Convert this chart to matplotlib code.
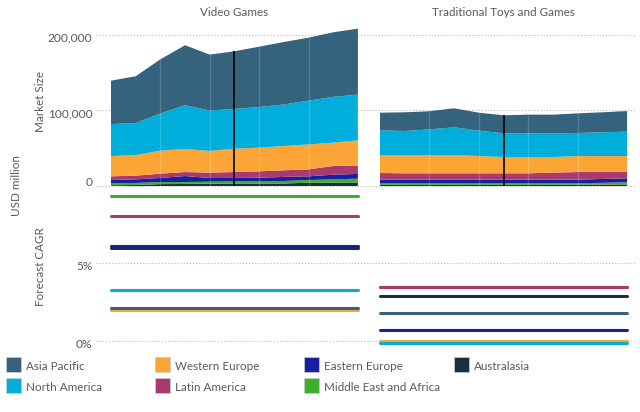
import numpy as np
import matplotlib
matplotlib.use("Agg")
import matplotlib.pyplot as plt
from matplotlib.patches import Rectangle
from matplotlib.transforms import ScaledTranslation

plt.rcParams['font.family'] = ['Lato', 'DejaVu Sans']

W, H = 640, 412
grey = '#595959'

# bottom of the stack first
regions = ['Australasia', 'Middle East and Africa', 'Eastern Europe', 'Latin America',
           'Western Europe', 'North America', 'Asia Pacific']
colors = ['#1a2f3f', '#3fae2a', '#1520a0', '#a93a6f', '#fba537', '#00aedb', '#35637d']

# market size, USD billion (shown x1000)
video_aus = [1, 1.3, 2.5, 2.7, 3, 3.3, 3.3, 3.3, 4.4, 4.4, 4.6]
video_mea = [3, 2.7, 2.8, 2.6, 2.7, 2.9, 3.3, 3.3, 3.6, 4.4, 5.1]
video_ee = [4, 4.8, 5.3, 7.9, 4.9, 4.4, 4.4, 5.4, 4.8, 6.2, 6.3]
video_la = [4.8, 4.9, 5.7, 5.3, 7.1, 7.9, 8.4, 8.8, 9.2, 11.5, 11]
video_we = [26.9, 27.3, 30.5, 30.5, 28.7, 30.9, 31.4, 32.2, 33, 30.9, 33.5]
video_na = [42.3, 42.4, 49.2, 58, 53.6, 52.6, 53.8, 55, 58, 60.6, 60.5]
video_ap = [57.5, 61.9, 71.8, 79.4, 74, 76.4, 79.9, 82.7, 83.4, 85.5, 87.4]

toys_aus = [1.5, 1.5, 1.5, 1.5, 1.5, 1.5, 1.5, 1.5, 1.7, 1.8, 2]
toys_mea = [2, 2, 2, 2, 2, 2, 2, 2, 2, 2.4, 3]
toys_ee = [4.9, 4.9, 4.9, 4.9, 4.9, 4.9, 4.9, 4.9, 4.7, 5.1, 5.2]
toys_la = [8.8, 8.4, 8.4, 8.4, 8.4, 8.4, 8.4, 9.3, 10.1, 9.2, 8.3]
toys_we = [23.8, 24.2, 24.2, 24.2, 22.9, 21.6, 21.6, 20.7, 21.2, 21.2, 21.2]
toys_na = [32.7, 31.8, 34, 36.7, 33.6, 31.4, 31.4, 31.4, 30.5, 31.3, 32.3]
toys_ap = [23.4, 24.8, 24, 25.2, 23.8, 23.8, 24.7, 24.7, 26, 26.6, 27.3]

# forecast CAGR %, same order as regions
video_cagr = [5.95, 9.3, 6.05, 8.0, 1.95, 3.27, 2.1]
toys_cagr = [2.87, 3.47, 0.67, 3.42, 0.0, -0.15, 1.75]

years = np.arange(11)
now = 5  # black marker, end of history
size_ticks = [0, 100, 200]
size_labels = ['0', '100,000', '200,000']
cagr_ticks = [0, 5]
cagr_labels = ['0%', '5%']
legend_rows = [('Asia Pacific', 'North America'), ('Western Europe', 'Latin America'),
               ('Eastern Europe', 'Middle East and Africa'), ('Australasia',)]


def px_axes(fig, x0, y0, x1, y1):
    return fig.add_axes([x0 / W, 1 - y1 / H, (x1 - x0) / W, (y1 - y0) / H])


def clean(ax):
    for s in ax.spines.values():
        s.set_visible(False)
    ax.set_xticks([])
    ax.tick_params(length=0, labelsize=8.6, labelcolor=grey, pad=2.5)
    ax.set_axisbelow(True)
    ax.grid(axis='y', color='#c4c4c4', lw=0.8, ls=(0, (1.2, 1.6)))


def draw_stack(ax, series, xlim):
    ax.stackplot(years, series, colors=colors, lw=0)
    total = np.sum(series, axis=0)
    ax.vlines(years[2::2][:4], 0, total[2::2][:4], color='white', alpha=0.17, lw=1)
    ax.vlines(now, 0, total[now], color='black', lw=1.2)
    ax.set_xlim(xlim)
    ax.set_ylim(-5.3, 213.2)
    ax.set_yticks(size_ticks)


def draw_cagr(ax, values, xlim):
    for v, c in zip(values, colors):
        ax.plot([years[0], years[-1]], [v, v], color=c, lw=2.2, solid_capstyle='round')
    ax.set_xlim(xlim)
    ax.set_ylim(-0.47, 9.53)
    ax.set_yticks(cagr_ticks)


fig = plt.figure(figsize=(W / 100, H / 100), dpi=100)

ax_video = px_axes(fig, 96, 25, 369, 190)
ax_toys = px_axes(fig, 369, 25, 637, 190)
ax_video_c = px_axes(fig, 96, 192, 369, 348)
ax_toys_c = px_axes(fig, 369, 192, 637, 348)
for ax in (ax_video, ax_toys, ax_video_c, ax_toys_c):
    clean(ax)

xlim_l = (-0.607, 10.45)
xlim_r = (-0.445, 10.4)
video = [video_aus, video_mea, video_ee, video_la, video_we, video_na, video_ap]
toys = [toys_aus, toys_mea, toys_ee, toys_la, toys_we, toys_na, toys_ap]
draw_stack(ax_video, video, xlim_l)
draw_stack(ax_toys, toys, xlim_r)
draw_cagr(ax_video_c, video_cagr, xlim_l)
draw_cagr(ax_toys_c, toys_cagr, xlim_r)

ax_video.set_yticklabels(size_labels)
ax_video_c.set_yticklabels(cagr_labels)
ax_toys.tick_params(labelleft=False)
ax_toys_c.tick_params(labelleft=False)

# tick labels sit a little off their gridlines in the original
for lab, dy in zip(ax_video.get_yticklabels(), [4, -2, -2]):
    lab.set_transform(lab.get_transform() + ScaledTranslation(0, dy / 100, fig.dpi_scale_trans))
for lab in ax_video_c.get_yticklabels():
    lab.set_transform(lab.get_transform() + ScaledTranslation(0, -2.5 / 100, fig.dpi_scale_trans))

fs = 8.4
fig.text(234 / W, 1 - 13 / H, 'Video Games', ha='center', va='center', fontsize=fs, color=grey)
fig.text(503 / W, 1 - 13 / H, 'Traditional Toys and Games', ha='center', va='center', fontsize=fs, color=grey)
fig.text(40 / W, 1 - 102 / H, 'Market Size', rotation=90, ha='center', va='center', fontsize=fs, color=grey)
fig.text(40 / W, 1 - 267 / H, 'Forecast CAGR', rotation=90, ha='center', va='center', fontsize=fs, color=grey)
fig.text(16 / W, 1 - 185 / H, 'USD million', rotation=90, ha='center', va='center', fontsize=fs, color=grey)

# legend, laid out by hand in pixels
col_x = [6, 155, 304, 454]
row_y = [357, 378]
for x, names in zip(col_x, legend_rows):
    for y, name in zip(row_y, names):
        c = colors[regions.index(name)]
        fig.add_artist(Rectangle((x / W, 1 - (y + 15) / H), 15 / W, 15 / H, transform=fig.transFigure,
                                 facecolor=c, edgecolor='#c8d0d4', lw=0.5))
        fig.text((x + 20) / W, 1 - (y + 9.5) / H, name, ha='left', va='center', fontsize=fs, color=grey)

fig.savefig('out.png', dpi=100)
